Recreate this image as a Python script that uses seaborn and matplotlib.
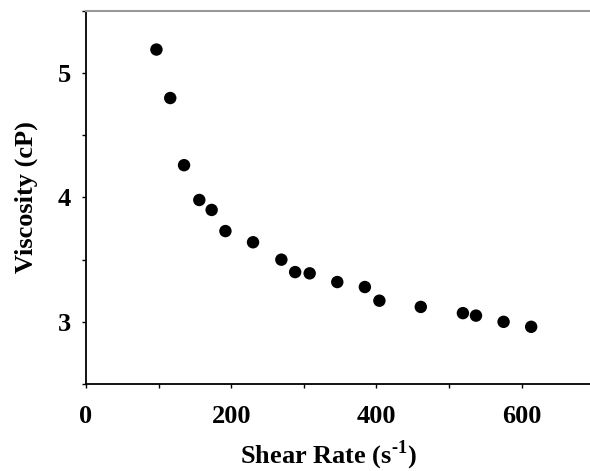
import matplotlib
matplotlib.use("Agg")
import matplotlib.pyplot as plt
import seaborn as sns
import pandas as pd
from matplotlib.ticker import MultipleLocator

shear_rate = [97, 116, 135, 156, 173, 192, 230, 269, 288, 308, 346, 384, 404, 461, 519, 537, 575, 613]
viscosity = [5.19, 4.80, 4.26, 3.98, 3.90, 3.73, 3.64, 3.50, 3.40, 3.39, 3.32, 3.28, 3.17, 3.12, 3.07, 3.05, 3.00, 2.96]

x_major = [0, 200, 400, 600]
y_major = [3, 4, 5]

df = pd.DataFrame({"Shear Rate": shear_rate, "Viscosity": viscosity})

sns.set_theme(style="white")
plt.rcParams["font.family"] = ["Liberation Serif", "DejaVu Serif"]
plt.rcParams["font.weight"] = "bold"
plt.rcParams["text.color"] = "black"
plt.rcParams["axes.labelcolor"] = "black"
plt.rcParams["xtick.color"] = "black"
plt.rcParams["ytick.color"] = "black"
plt.rcParams["mathtext.fontset"] = "custom"
plt.rcParams["mathtext.rm"] = "Liberation Serif:bold"
plt.rcParams["mathtext.bf"] = "Liberation Serif:bold"

fig = plt.figure(figsize=(5.9, 4.71), dpi=100)
ax = fig.add_axes([86 / 590, 1 - 384 / 471, 1 - 86 / 590, (384 - 11) / 471])

sns.scatterplot(data=df, x="Shear Rate", y="Viscosity", ax=ax, color="black",
                s=80, edgecolor="none", linewidth=0, legend=False)

ax.set_xlim(0, 694)
ax.set_ylim(2.5, 5.5)
ax.set_xticks(x_major)
ax.set_yticks(y_major)
ax.xaxis.set_minor_locator(MultipleLocator(100))
ax.yaxis.set_minor_locator(MultipleLocator(0.5))

ax.tick_params(axis="both", which="both", direction="out", length=3, width=1,
               color="black", labelcolor="black", labelsize=19, bottom=True, left=True)
ax.tick_params(axis="x", which="major", pad=12)
ax.tick_params(axis="y", which="major", pad=8)
for lab in ax.get_xticklabels() + ax.get_yticklabels():
    lab.set_fontweight("bold")

ax.set_xlabel("Shear Rate (s$^{\u2010\\mathbf{1}}$)", fontsize=19, fontweight="bold",
              color="black", labelpad=6)
ax.xaxis.set_label_coords(0.482, -0.145)
ax.set_ylabel("Viscosity (cP)", fontsize=19, fontweight="bold", color="black", labelpad=14)

for side in ["left", "bottom"]:
    ax.spines[side].set_color("black")
    ax.spines[side].set_linewidth(1.3)
ax.spines["top"].set_color("#999999")
ax.spines["top"].set_linewidth(1.5)
ax.spines["right"].set_visible(False)

fig.savefig("out.png", dpi=100)
